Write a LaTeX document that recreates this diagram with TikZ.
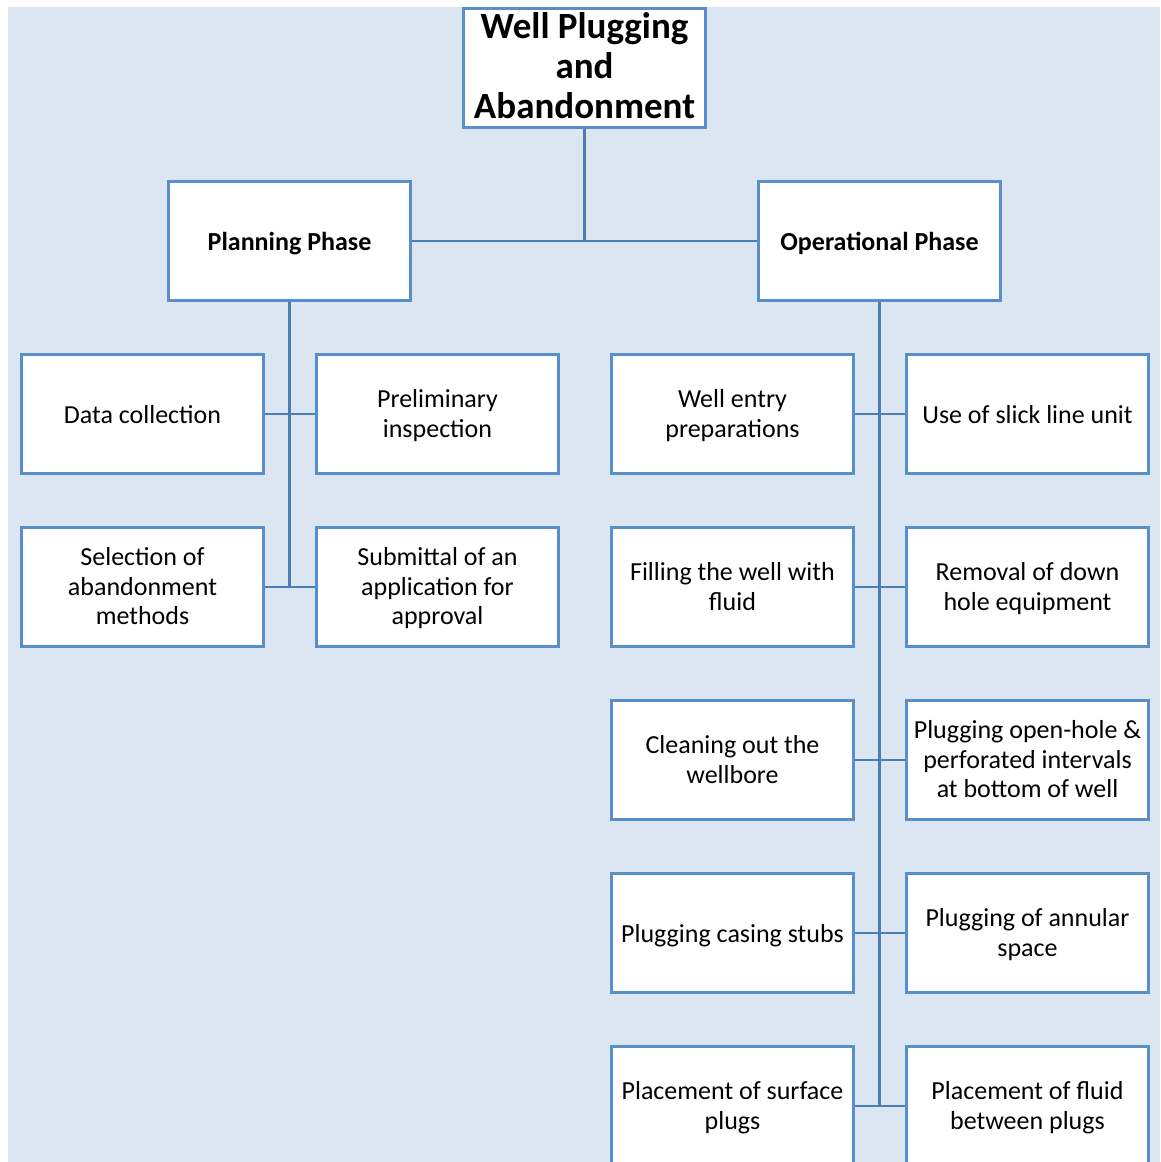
\documentclass[tikz,border=0pt]{standalone}
\usepackage{fontspec}
\setmainfont{Carlito}
\definecolor{bgblue}{RGB}{220,230,242}
\definecolor{boxblue}{RGB}{88,142,202}
\definecolor{lineblue}{RGB}{74,126,180}
\newcommand\fstrut{\rule{0pt}{23.5pt}}
\begin{document}
\begin{tikzpicture}[x=1pt,y=-1pt,
  box/.style={draw=boxblue,line width=2.6pt,fill=white,minimum width=242.5pt,minimum height=119.5pt,align=center,inner sep=2pt,font=\fontsize{26}{29.5}\selectfont,execute at begin node=\rule{0pt}{25.5pt},execute at end node=\rule[-7pt]{0pt}{0pt}},
  phase/.style={box,font=\fontsize{26}{30}\selectfont\bfseries},
  titlebox/.style={draw=boxblue,line width=2.6pt,fill=white,minimum width=242.5pt,minimum height=119.5pt,align=center,inner sep=0pt,font=\fontsize{37}{40}\selectfont\bfseries,execute at end node=\rule[-4pt]{0pt}{0pt}},
  conn/.style={draw=lineblue,line width=2.6pt}]
\useasboundingbox (0,0) rectangle (1160,1162);
\clip (0,0) rectangle (1160,1162);
\fill[bgblue] (8,7) rectangle (1160,1162);
% nodes
\node[titlebox] (top) at (584.5,68) {Well Plugging\\and\\Abandonment};
\node[phase] (plan) at (289.5,241) {Planning Phase};
\node[phase] (op) at (879.5,241) {Operational Phase};
\node[box] (data) at (142.5,414) {Data collection};
\node[box] (prel) at (437.5,414) {\fstrut Preliminary\\inspection};
\node[box] (sel) at (142.5,587) {\fstrut Selection of\\abandonment\\methods};
\node[box] (sub) at (437.5,587) {\fstrut Submittal of an\\application for\\approval};
\node[box] (entry) at (732.5,414) {\fstrut Well entry\\preparations};
\node[box] (slick) at (1027.5,414) {Use of slick line unit};
\node[box] (fill) at (732.5,587) {\fstrut Filling the well with\\fluid};
\node[box] (remove) at (1027.5,587) {\fstrut Removal of down\\hole equipment};
\node[box] (clean) at (732.5,760) {\fstrut Cleaning out the\\wellbore};
\node[box] (openhole) at (1027.5,760) {\fstrut Plugging open-hole \&\\perforated intervals\\at bottom of well};
\node[box] (stubs) at (732.5,933) {Plugging casing stubs};
\node[box] (annular) at (1027.5,933) {\fstrut Plugging of annular\\space};
\node[box] (surface) at (732.5,1106) {\fstrut Placement of surface\\plugs};
\node[box] (between) at (1027.5,1106) {\fstrut Placement of fluid\\between plugs};
% connectors
\coordinate (j) at (top.south |- plan.east);
\draw[conn] (top.south) -- (j);
\draw[conn] (plan.east) -- (op.west);
\draw[conn] (plan.south) -- (plan.south |- sub.west);
\draw[conn] (data.east) -- (prel.west);
\draw[conn] (sel.east) -- (sub.west);
\draw[conn] (op.south) -- (op.south |- between.west);
\draw[conn] (entry.east) -- (slick.west);
\draw[conn] (fill.east) -- (remove.west);
\draw[conn] (clean.east) -- (openhole.west);
\draw[conn] (stubs.east) -- (annular.west);
\draw[conn] (surface.east) -- (between.west);
\end{tikzpicture}
\end{document}
